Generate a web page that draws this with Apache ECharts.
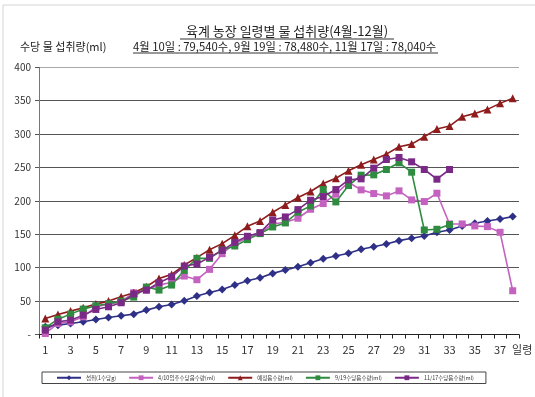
<!DOCTYPE html>
<html><head><meta charset="utf-8">
<script src="https://cdn.jsdelivr.net/npm/echarts@6/dist/echarts.min.js"></script>
<style>html,body{margin:0;padding:0;background:#fff}#c{width:535px;height:397px}</style>
</head><body><div id="c"></div>
<script>
const days = Array.from({length:38},(_,i)=>String(i+1));
const feed = [11.5,14,16.5,19,22.5,25.5,28,30.5,36.5,41.5,45,50.5,57.5,63,67.5,74,80.5,85,91.5,96.5,101.5,107.5,113.5,117.5,121.5,127.5,131.5,135.5,140.5,144,147.5,153,156.5,162.5,166.5,170,173,176.5];
const apr10 = [1.5,16.5,19,26.5,41.5,45.5,49,62.5,66.5,74,78,87.5,82,97.5,121,136.5,144,151.5,165.5,168,174,187.5,196,210,228,216.5,211,207.5,215,201.5,199,211.5,165.5,165.5,162.5,161.5,153,65.5];
const standard = [24,30,35,40,45.5,50,56.5,62.5,71.5,84,90,104,115,127,136,148.5,162,170,183,194,205,214,226,234,245,254,262,270,281,285,296,307.5,312,326,331,337,346,353.5];
const sep19 = [10,23,30.5,38,43,46,50,56,71,66.5,74,96,114,114,126.5,132.5,142,151,161,167,183,192.5,217,198.5,223,238.5,239,247,257,243,156.5,157.5,164.5,null,null,null,null,null];
const nov17 = [6.5,19,21.5,29,37.5,41.5,47.5,60.5,66.5,77.5,86.5,102.5,105.5,115.5,126,138,147,152.5,171.5,176,187,201,206.5,217,231.5,233,249,262,265,258.5,247,232.5,247,null,null,null,null,null];
const seriesNames = ['섭취(1수당g)','4/10입추수당음수량(ml)','예정음수량(ml)','9/19수당음수량(ml)','11/17수당음수량(ml)'];
const titleText = '육계 농장 일령별 물 섭취량(4월-12월)';
const yName = '수당 물 섭취량(ml)';
const subText = '4월 10일 : 79,540수, 9월 19일 : 78,480수, 11월 17일 : 78,040수';
const xUnit = '일령';

const FONT = '"Noto Sans CJK KR", "Noto Sans", sans-serif';
const chart = echarts.init(document.getElementById('c'));
function ser(name, data, color, symbol, size){
  return {name, type:'line', data, symbol, symbolSize:size, showSymbol:true,
    lineStyle:{color, width:1.6}, itemStyle:{color}, connectNulls:false, animation:false};
}
chart.setOption({
  animation:false,
  textStyle:{fontFamily:FONT},
  graphic:[
    {type:'rect', shape:{x:3,y:5,width:700,height:700}, style:{fill:'none', stroke:'#d4d4d4', lineWidth:1}, silent:true},
    {type:'text', x:287, y:31, style:{text:titleText, font:'13px '+FONT, fill:'#222', textAlign:'center', textVerticalAlign:'middle'}},
    {type:'line', shape:{x1:180,y1:39,x2:394,y2:39}, style:{stroke:'#333', lineWidth:1}},
    {type:'text', x:20, y:47, style:{text:yName, font:'11px '+FONT, fill:'#222', textVerticalAlign:'middle'}},
    {type:'text', x:133, y:47, style:{text:subText, font:'11.3px '+FONT, fill:'#222', textVerticalAlign:'middle'}},
    {type:'line', shape:{x1:133,y1:53,x2:438,y2:53}, style:{stroke:'#333', lineWidth:1}}
  ],
  grid:{left:39, right:8, top:67.3, bottom:62.5},
  legend:{
    left:42, top:372, width:600, itemWidth:24, itemHeight:6, itemGap:12,
    padding:[3,12,3,14], borderColor:'#444', borderWidth:1,
    textStyle:{fontSize:5.5, color:'#333', fontFamily:FONT},
    data:seriesNames
  },
  xAxis:{
    type:'category', data:days, boundaryGap:true,
    name:xUnit, nameLocation:'end', nameGap:-12,
    nameTextStyle:{fontSize:11, color:'#333', align:'left', verticalAlign:'top', padding:[10,0,0,0]},
    axisLine:{lineStyle:{color:'#222', width:1}},
    axisTick:{show:true, interval:0, length:4, lineStyle:{color:'#222'}},
    axisLabel:{interval:1, fontSize:11, color:'#333', margin:10},
    splitLine:{show:false}
  },
  yAxis:{
    type:'value', min:0, max:400, interval:50,
    axisLine:{show:true, lineStyle:{color:'#777'}},
    axisTick:{show:true, length:4, lineStyle:{color:'#555'}},
    axisLabel:{fontSize:10, color:'#333', margin:8, formatter:(v)=> v===0 ? '-' : String(v)},
    splitLine:{show:true, lineStyle:{color:['#555','#555','#555','#555','#555','#555','#555','#555','#aaa'], width:1}}
  },
  series:[
    ser(seriesNames[0], feed, '#2e2f86', 'diamond', 8),
    ser(seriesNames[1], apr10, '#c462bf', 'rect', 7),
    ser(seriesNames[2], standard, '#8e1c1c', 'triangle', 8),
    ser(seriesNames[3], sep19, '#2f8b3f', 'rect', 7),
    ser(seriesNames[4], nov17, '#7a2a86', 'rect', 7)
  ]
});
</script></body></html>
